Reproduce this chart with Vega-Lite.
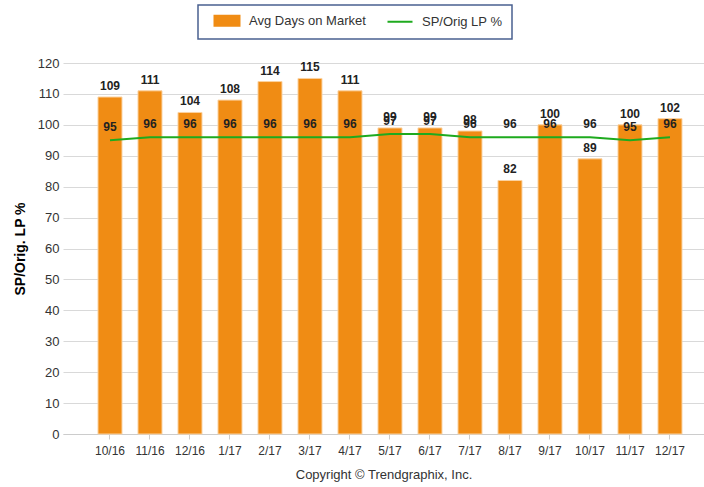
{
  "$schema": "https://vega.github.io/schema/vega-lite/v6.json",
  "autosize": {"type": "none"},
  "padding": {"left": 63, "top": 63, "right": 0, "bottom": 53},
  "width": 641,
  "height": 371,
  "background": "white",
  "config": {
    "view": {"stroke": null},
    "font": "Liberation Sans",
    "axisY": {
      "title": "SP/Orig. LP %",
      "titleFont": "Liberation Sans",
      "titleFontSize": 14,
      "titleFontWeight": "bold",
      "titleColor": "#000000",
      "titlePadding": 10,
      "labelFont": "Liberation Sans",
      "labelFontSize": 13,
      "labelColor": "#333333",
      "labelPadding": 4,
      "domain": false,
      "ticks": false,
      "grid": true,
      "gridColor": "#d9d9d9"
    },
    "legend": {
      "title": null,
      "orient": "none",
      "legendX": 135,
      "legendY": -58,
      "direction": "horizontal",
      "padding": 9,
      "strokeColor": "#4A6090",
      "fillColor": "white",
      "symbolSize": 36,
      "labelOffset": 29,
      "columnPadding": 14,
      "labelFont": "Liberation Sans",
      "labelFontSize": 13,
      "labelColor": "#333333"
    }
  },
  "data": {
    "values": [
      {"month": "10/16", "days": 109, "sp": 95},
      {"month": "11/16", "days": 111, "sp": 96},
      {"month": "12/16", "days": 104, "sp": 96},
      {"month": "1/17", "days": 108, "sp": 96},
      {"month": "2/17", "days": 114, "sp": 96},
      {"month": "3/17", "days": 115, "sp": 96},
      {"month": "4/17", "days": 111, "sp": 96},
      {"month": "5/17", "days": 99, "sp": 97},
      {"month": "6/17", "days": 99, "sp": 97},
      {"month": "7/17", "days": 98, "sp": 96},
      {"month": "8/17", "days": 82, "sp": 96},
      {"month": "9/17", "days": 100, "sp": 96},
      {"month": "10/17", "days": 89, "sp": 96},
      {"month": "11/17", "days": 100, "sp": 95},
      {"month": "12/17", "days": 102, "sp": 96}
    ]
  },
  "encoding": {
    "x": {
      "field": "month",
      "type": "nominal",
      "sort": null,
      "scale": {"paddingInner": 0.4, "paddingOuter": 0.7125, "align": 0.614},
      "axis": {
        "title": "Copyright © Trendgraphix, Inc.",
        "titleFont": "Liberation Sans",
        "titleFontSize": 13,
        "titleFontWeight": "normal",
        "titleColor": "#333333",
        "titlePadding": 12,
        "labelAngle": 0,
        "labelFont": "Liberation Sans",
        "labelFontSize": 12,
        "labelColor": "#333333",
        "labelPadding": 6,
        "domainColor": "#cccccc",
        "tickColor": "#cccccc",
        "tickSize": 5,
        "grid": false
      }
    }
  },
  "layer": [
    {
      "mark": {"type": "bar", "stroke": "#FBD2A0", "strokeWidth": 1},
      "encoding": {
        "y": {
          "field": "days",
          "type": "quantitative",
          "scale": {"domain": [0, 120], "nice": false},
          "axis": {"values": [0, 10, 20, 30, 40, 50, 60, 70, 80, 90, 100, 110, 120], "title": "SP/Orig. LP %"}
        },
        "color": {
          "datum": "Avg Days on Market",
          "scale": {"domain": ["Avg Days on Market", "SP/Orig LP %"], "range": ["#F08C14", "#1EAA1E"]},
          "legend": {
            "labelExpr": "datum.label === 'SP/Orig LP %' ? datum.label + '   ' : datum.label",
            "encode": {
              "legend": {"update": {"strokeWidth": {"value": 1.5}}},
              "symbols": {
                "update": {
                  "shape": {"signal": "datum.value === 'SP/Orig LP %' ? 'M0.333,0H8.667' : 'M0.333,-1.667H8.667V1.667H0.333Z'"},
                  "fill": {"signal": "datum.value === 'SP/Orig LP %' ? 'transparent' : '#F08C14'"},
                  "stroke": {"signal": "datum.value === 'SP/Orig LP %' ? '#1EAA1E' : 'transparent'"},
                  "strokeWidth": {"value": 2},
                  "opacity": {"value": 1}
                }
              }
            }
          }
        }
      }
    },
    {
      "mark": {"type": "text", "dy": -11, "font": "Liberation Sans", "fontWeight": "bold", "fontSize": 12, "color": "#222222"},
      "encoding": {
        "y": {"field": "days", "type": "quantitative", "axis": {"values": [0, 10, 20, 30, 40, 50, 60, 70, 80, 90, 100, 110, 120], "title": "SP/Orig. LP %"}},
        "text": {"field": "days", "type": "quantitative"}
      }
    },
    {
      "mark": {"type": "line", "strokeWidth": 2},
      "encoding": {
        "y": {"field": "sp", "type": "quantitative", "axis": {"values": [0, 10, 20, 30, 40, 50, 60, 70, 80, 90, 100, 110, 120], "title": "SP/Orig. LP %"}},
        "color": {
          "datum": "SP/Orig LP %",
          "legend": {
            "labelExpr": "datum.label === 'SP/Orig LP %' ? datum.label + '   ' : datum.label",
            "encode": {
              "legend": {"update": {"strokeWidth": {"value": 1.5}}},
              "symbols": {
                "update": {
                  "shape": {"signal": "datum.value === 'SP/Orig LP %' ? 'M0.333,0H8.667' : 'M0.333,-1.667H8.667V1.667H0.333Z'"},
                  "fill": {"signal": "datum.value === 'SP/Orig LP %' ? 'transparent' : '#F08C14'"},
                  "stroke": {"signal": "datum.value === 'SP/Orig LP %' ? '#1EAA1E' : 'transparent'"},
                  "strokeWidth": {"value": 2},
                  "opacity": {"value": 1}
                }
              }
            }
          }
        }
      }
    },
    {
      "mark": {"type": "text", "dy": -13, "font": "Liberation Sans", "fontWeight": "bold", "fontSize": 12, "color": "#222222"},
      "encoding": {
        "y": {"field": "sp", "type": "quantitative", "axis": {"values": [0, 10, 20, 30, 40, 50, 60, 70, 80, 90, 100, 110, 120], "title": "SP/Orig. LP %"}},
        "text": {"field": "sp", "type": "quantitative"}
      }
    }
  ]
}
